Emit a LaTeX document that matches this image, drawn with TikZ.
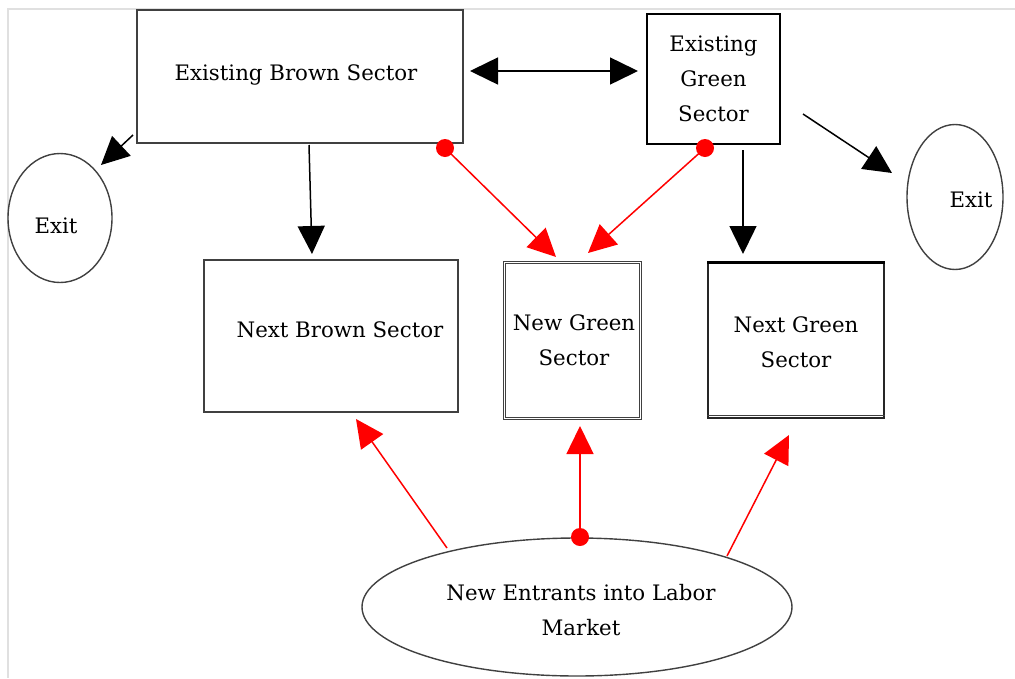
\documentclass[tikz,border=0pt]{standalone}
\usepackage{fontspec}
\setmainfont{DejaVu Serif}
\usetikzlibrary{arrows.meta,shapes.geometric}
\begin{document}
\begin{tikzpicture}[x=1pt,y=-1pt,
  lbl/.style={inner sep=0pt,align=center,font=\fontsize{21.3}{35}\selectfont},
  box/.style={draw=black!75,line width=1.6pt,minimum width=#1,inner sep=0pt,align=center,font=\fontsize{21.3}{35}\selectfont},
  oval/.style={ellipse,draw=black!75,line width=1.4pt,inner sep=0pt,align=center},
  blk/.style={draw=black,line width=1.5pt,-{Triangle[length=28pt,width=27pt]}},
  red/.style={draw=red,line width=1.5pt,-{Triangle[length=28pt,width=27pt,fill=red]}},
  rdot/.style={circle,fill=red,minimum size=18pt,inner sep=0pt}]
\useasboundingbox (0,0) rectangle (1015,678);
\draw[black!12,line width=1.5pt] (8,678) -- (8,9) -- (1015,9);
% boxes
\node[box=326pt,minimum height=133pt] (eb) at (300,76.5) {};
\node[lbl] (ebt) at (296,75) {Existing Brown Sector};
\node[box=133pt,minimum height=130pt,draw=black,line width=2.6pt] (eg) at (713.5,79) {Existing\\Green\\Sector};
\node[box=254pt,minimum height=152pt] (nb) at (331,336) {};
\node[lbl] (nbt2) at (340,330) {Next Brown Sector};
\node[box=136pt,minimum height=156pt,double,double distance=1pt,line width=1pt] (ng) at (572,340) {};
\node[lbl] (ngt) at (574,340) {New Green\\Sector};
\node[box=176pt,minimum height=155pt,draw=black!85] (ngs) at (796,340.5) {};
\draw[black,line width=2.6pt] (ngs.north west) -- (ngs.north east);
\draw[black!75,line width=1pt] ([yshift=3pt]ngs.south west) -- ([yshift=3pt]ngs.south east);
\node[lbl] (ngst2) at (796,342) {Next Green\\Sector};
% ovals
\node[oval,minimum width=104pt,minimum height=129pt] (exl) at (60,218) {};
\node[lbl] (exlt) at (56,226) {Exit};
\node[oval,minimum width=96pt,minimum height=145pt] (exr) at (955,197) {};
\node[lbl] (exrt) at (971,200) {Exit};
\node[oval,minimum width=430pt,minimum height=138pt] (ne) at (577,607) {};
\node[lbl] (net) at (581,610) {New Entrants into Labor\\Market};
% coordinates
\coordinate (dbL) at (470,71);
\coordinate (dbR) at (638,71);
\coordinate (ebc) at (133,135);
\coordinate (exlh) at (101,165);
\coordinate (ebd) at (309,145);
\coordinate (nbt) at (312,254);
\coordinate (egd) at (743,150);
\coordinate (ngst) at (743,254);
\coordinate (egr) at (803,114);
\coordinate (exrh) at (892,173);
\node[rdot] (d1) at (445,148) {};
\node[rdot] (d2) at (705,148) {};
\node[rdot] (d3) at (580,537) {};
\coordinate (ngt1) at (556,257);
\coordinate (ngt2) at (588,253);
\coordinate (nel) at (447,548);
\coordinate (nbb) at (356,419);
\coordinate (ngb) at (580,426);
\coordinate (ner) at (727,556);
\coordinate (ngsb) at (789,435);
% black arrows
\draw[draw=black,line width=1.5pt,{Triangle[length=28pt,width=27pt]}-{Triangle[length=28pt,width=27pt]}] (dbL) -- (dbR);
\draw[blk] (ebc) -- (exlh);
\draw[blk] (ebd) -- (nbt);
\draw[blk] (egd) -- (ngst);
\draw[blk] (egr) -- (exrh);
% red arrows
\draw[red] (d1.center) -- (ngt1);
\draw[red] (d2.center) -- (ngt2);
\draw[red] (nel) -- (nbb);
\draw[red] (d3.center) -- (ngb);
\draw[red] (ner) -- (ngsb);
\end{tikzpicture}
\end{document}
